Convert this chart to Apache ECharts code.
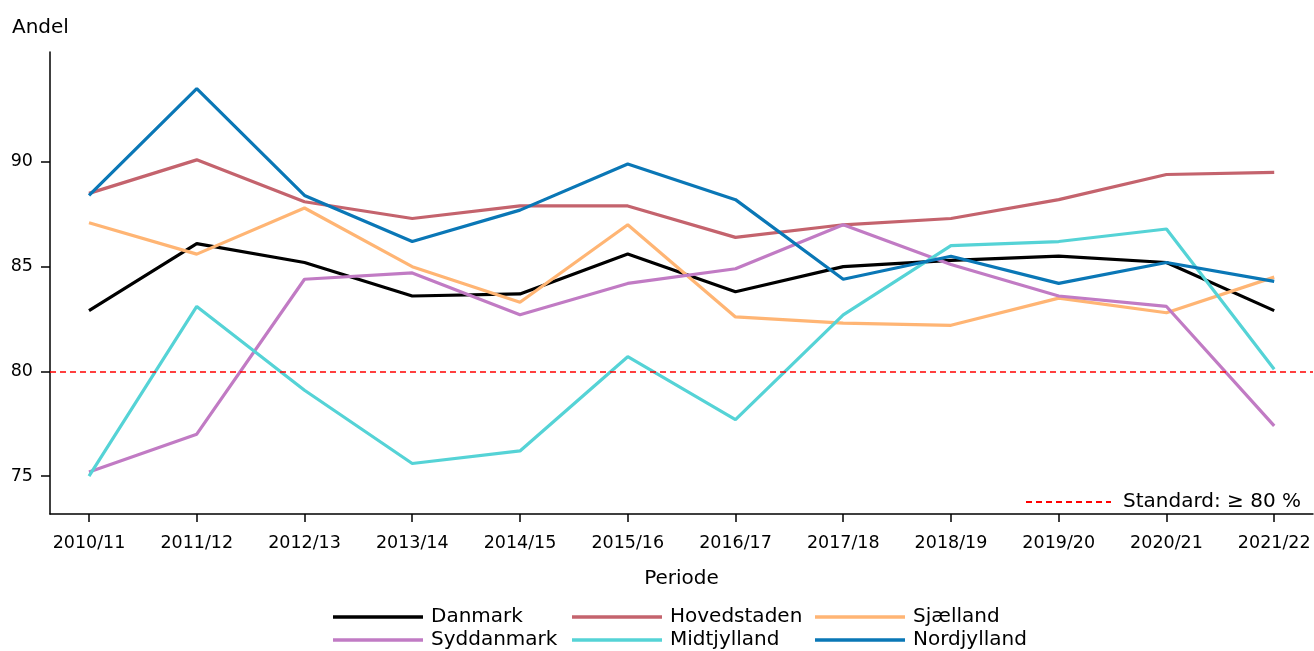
<!DOCTYPE html>
<html>
<head>
<meta charset="utf-8">
<script src="https://cdn.jsdelivr.net/npm/echarts@6/dist/echarts.min.js"></script>
<style>
  html, body { margin: 0; padding: 0; background: #fff; }
  #chart { width: 1314px; height: 651px; }
</style>
</head>
<body>
<div id="chart"></div>
<script>
// perioder (x-akse)
const periods = ['2010/11', '2011/12', '2012/13', '2013/14', '2014/15', '2015/16',
                 '2016/17', '2017/18', '2018/19', '2019/20', '2020/21', '2021/22'];

// andel pr. region
const danmark     = [82.9, 86.1, 85.2, 83.6, 83.7, 85.6, 83.8, 85.0, 85.3, 85.5, 85.2, 82.9];
const hovedstaden = [88.5, 90.1, 88.1, 87.3, 87.9, 87.9, 86.4, 87.0, 87.3, 88.2, 89.4, 89.5];
const sjaelland   = [87.1, 85.6, 87.8, 85.0, 83.3, 87.0, 82.6, 82.3, 82.2, 83.5, 82.8, 84.5];
const syddanmark  = [75.2, 77.0, 84.4, 84.7, 82.7, 84.2, 84.9, 87.0, 85.1, 83.6, 83.1, 77.4];
const midtjylland = [75.0, 83.1, 79.1, 75.6, 76.2, 80.7, 77.7, 82.7, 86.0, 86.2, 86.8, 80.1];
const nordjylland = [88.4, 93.5, 88.4, 86.2, 87.7, 89.9, 88.2, 84.4, 85.5, 84.2, 85.2, 84.3];

const yTicks = [75, 80, 85, 90];
const standardLevel = 80;
const standardName = 'Standard: \u2265 80 %';

const FONT = 'DejaVu Sans';

const regions = [
  { name: 'Danmark',     values: danmark,     color: '#000000' },
  { name: 'Hovedstaden', values: hovedstaden, color: '#c4636d' },
  { name: 'Sjælland',    values: sjaelland,   color: '#ffb574' },
  { name: 'Syddanmark',  values: syddanmark,  color: '#c17bc4' },
  { name: 'Midtjylland', values: midtjylland, color: '#55d3d6' },
  { name: 'Nordjylland', values: nordjylland, color: '#0a77b6' }
];

const chart = echarts.init(document.getElementById('chart'), null, { renderer: 'canvas' });

const lineSeries = regions.map(r => ({
  name: r.name,
  type: 'line',
  data: r.values.map((v, i) => [i, v]),
  symbol: 'none',
  color: r.color,
  lineStyle: { color: r.color, width: 3.2 },
  emphasis: { disabled: true },
  animation: false
}));

// standard-linjen som egen serie, saa den faar sin egen legende
const standardSeries = {
  name: standardName,
  type: 'line',
  data: [],
  symbol: 'none',
  color: '#ff0000',
  lineStyle: { color: '#ff0000', width: 1.5, type: [6, 4] },
  markLine: {
    silent: true,
    symbol: 'none',
    label: { show: false },
    lineStyle: { color: '#ff0000', width: 1.5, type: [6, 4] },
    data: [{ yAxis: standardLevel }]
  },
  animation: false
};

// legenden under figuren: 3 kolonner med 2 raekker
const legendColumnsLeft = [333, 572, 815];
const regionLegends = legendColumnsLeft.map((left, c) => ({
  data: [regions[c].name, regions[c + 3].name],
  orient: 'vertical', left: left, top: 607, padding: 0,
  icon: 'rect', itemWidth: 90, itemHeight: 3.5, itemGap: 3,
  textStyle: { fontFamily: FONT, fontSize: 20, color: '#000', lineHeight: 20, padding: [0, 0, 0, 3] },
  selectedMode: false
}));

const option = {
  backgroundColor: '#fff',
  animation: false,
  title: {
    text: 'Andel',
    left: 12, top: 18, padding: 0,
    textStyle: { fontFamily: FONT, fontSize: 20, fontWeight: 'normal', color: '#000' }
  },
  grid: { left: 50, right: 1, top: 52, bottom: 137 },
  xAxis: {
    type: 'value',
    min: -0.362,
    max: 11.36,
    name: 'Periode',
    nameLocation: 'middle',
    nameGap: 55,
    nameTextStyle: { fontFamily: FONT, fontSize: 20, color: '#000' },
    splitLine: { show: false },
    axisLine: { onZero: false, lineStyle: { color: '#000', width: 1.5 } },
    axisTick: { customValues: periods.map((p, i) => i), length: 8, lineStyle: { color: '#000', width: 1.5 } },
    axisLabel: {
      customValues: periods.map((p, i) => i),
      formatter: v => periods[Math.round(v)],
      margin: 20,
      fontFamily: FONT, fontSize: 17.5, color: '#000'
    }
  },
  yAxis: {
    type: 'value',
    min: 73.19,
    max: 95.25,
    splitLine: { show: false },
    axisLine: { show: true, onZero: false, lineStyle: { color: '#000', width: 1.5 } },
    axisTick: { show: true, customValues: yTicks, length: 9, lineStyle: { color: '#000', width: 1.5 } },
    axisLabel: {
      customValues: yTicks,
      margin: 17,
      fontFamily: FONT, fontSize: 17.5, color: '#000'
    }
  },
  legend: regionLegends.concat([
    {
      data: [standardName],
      right: 8, top: 487,
      itemWidth: 85, itemHeight: 14,
      itemStyle: { color: 'rgba(0,0,0,0)', borderWidth: 0 },
      textStyle: { fontFamily: FONT, fontSize: 20, color: '#000', lineHeight: 20, padding: [0, 0, 0, 7] },
      selectedMode: false
    }
  ]),
  series: [standardSeries].concat(lineSeries)
};

chart.setOption(option);
window.addEventListener('resize', () => chart.resize());
</script>
</body>
</html>
